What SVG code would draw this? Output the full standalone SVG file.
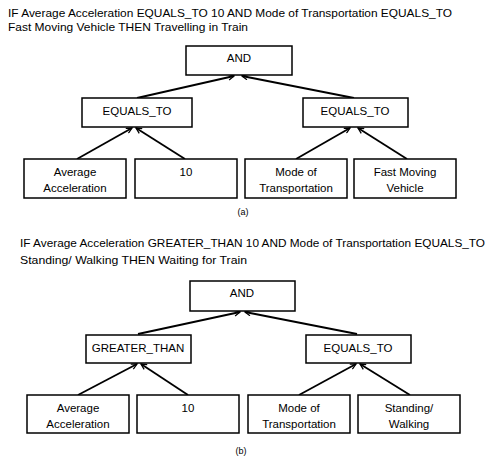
<svg xmlns="http://www.w3.org/2000/svg" width="487" height="457" viewBox="0 0 487 457">
<style>
text{font-family:"Liberation Sans",Arial,sans-serif;font-size:11.5px;fill:#000}
.t{font-size:11.5px}
.c{text-anchor:middle}
.box rect{fill:#fff;stroke:#000;stroke-width:1.5}
.conn line{stroke:#000;stroke-width:1.8;marker-end:url(#ah)}
</style>
<defs>
<marker id="ah" viewBox="0 0 10 10" refX="9" refY="5" markerWidth="7" markerHeight="7" markerUnits="userSpaceOnUse" orient="auto">
<polyline points="1,1 9,5 1,9" fill="none" stroke="#000" stroke-width="1.8"/>
</marker>
</defs>
<rect width="487" height="457" fill="#fff"/>
<text class="t" x="8" y="17" textLength="444" lengthAdjust="spacingAndGlyphs">IF Average Acceleration EQUALS_TO 10 AND Mode of Transportation EQUALS_TO</text>
<text class="t" x="8" y="31" textLength="240" lengthAdjust="spacingAndGlyphs">Fast Moving Vehicle THEN Travelling in Train</text>
<g class="conn">
<line x1="137" y1="98" x2="234" y2="76"/>
<line x1="354" y1="98" x2="242" y2="76"/>
<line x1="77" y1="159" x2="132" y2="128"/>
<line x1="185" y1="159" x2="136" y2="128"/>
<line x1="296" y1="159" x2="350" y2="128"/>
<line x1="407" y1="159" x2="358" y2="128"/>
<line x1="138" y1="334" x2="240" y2="312"/>
<line x1="357" y1="334" x2="245" y2="312"/>
<line x1="78" y1="395" x2="137" y2="364"/>
<line x1="188" y1="395" x2="141" y2="364"/>
<line x1="299" y1="395" x2="356" y2="364"/>
<line x1="410" y1="395" x2="360" y2="364"/>
</g>
<g id="a_and" class="box"><rect x="186" y="46" width="106" height="29"/><text class="c" x="239" y="62">AND</text></g>
<g id="a_eq1" class="box"><rect x="82" y="98" width="110" height="29"/><text class="c" x="137" y="115">EQUALS_TO</text></g>
<g id="a_eq2" class="box"><rect x="303" y="98" width="105" height="29"/><text class="c" x="355" y="115">EQUALS_TO</text></g>
<g id="a_avg" class="box"><rect x="24" y="159" width="102" height="39"/><text class="c" x="75" y="176">Average</text><text class="c" x="75" y="192">Acceleration</text></g>
<g id="a_10" class="box"><rect x="135" y="159" width="102" height="39"/><text class="c" x="186" y="176">10</text></g>
<g id="a_mode" class="box"><rect x="245" y="159" width="102" height="39"/><text class="c" x="296" y="176">Mode of</text><text class="c" x="296" y="192">Transportation</text></g>
<g id="a_fast" class="box"><rect x="354" y="159" width="102" height="39"/><text class="c" x="405" y="176">Fast Moving</text><text class="c" x="405" y="192">Vehicle</text></g>
<text class="c" x="243" y="215" style="font-size:9px">(a)</text>
<text class="t" x="20" y="247" textLength="465" lengthAdjust="spacingAndGlyphs">IF Average Acceleration GREATER_THAN 10 AND Mode of Transportation EQUALS_TO</text>
<text class="t" x="20" y="264" textLength="227" lengthAdjust="spacingAndGlyphs">Standing/ Walking THEN Waiting for Train</text>
<g id="b_and" class="box"><rect x="190" y="281" width="105" height="30"/><text class="c" x="242" y="297">AND</text></g>
<g id="b_gt" class="box"><rect x="86" y="335" width="105" height="28"/><text class="c" x="138" y="352">GREATER_THAN</text></g>
<g id="b_eq" class="box"><rect x="306" y="335" width="105" height="28"/><text class="c" x="358" y="352">EQUALS_TO</text></g>
<g id="b_avg" class="box"><rect x="27" y="395" width="102" height="38"/><text class="c" x="78" y="412">Average</text><text class="c" x="78" y="428">Acceleration</text></g>
<g id="b_10" class="box"><rect x="137" y="395" width="102" height="38"/><text class="c" x="188" y="412">10</text></g>
<g id="b_mode" class="box"><rect x="248" y="395" width="102" height="38"/><text class="c" x="299" y="412">Mode of</text><text class="c" x="299" y="428">Transportation</text></g>
<g id="b_stand" class="box"><rect x="358" y="395" width="102" height="38"/><text class="c" x="409" y="412">Standing/</text><text class="c" x="409" y="428">Walking</text></g>
<text class="c" x="241" y="454" style="font-size:9px">(b)</text>
</svg>
